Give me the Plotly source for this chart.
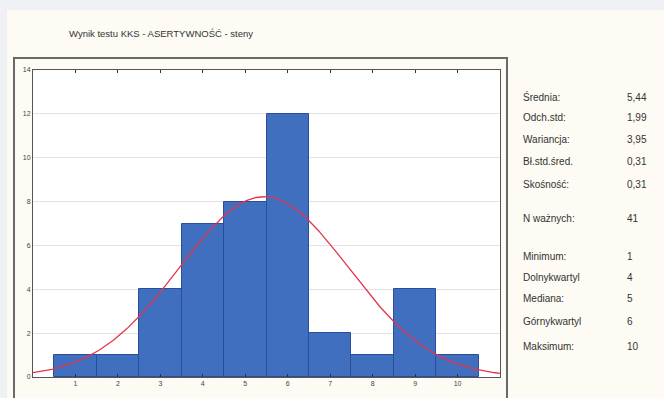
import numpy as np
import plotly.graph_objects as go

# Histogram of sten scores
scores = [1, 2, 3, 4, 5, 6, 7, 8, 9, 10]
counts = [1, 1, 4, 7, 8, 12, 2, 1, 4, 1]
y_ticks = [0, 2, 4, 6, 8, 10, 12, 14]

# Descriptive statistics panel
stat_labels = ["Średnia:", "Odch.std:", "Wariancja:", "Bł.std.śred.", "Skośność:",
               "N ważnych:", "Minimum:", "Dolnykwartyl", "Mediana:", "Górnykwartyl", "Maksimum:"]
stat_values = ["5,44", "1,99", "3,95", "0,31", "0,31", "41", "1", "4", "5", "6", "10"]
stat_rows_px = [97, 118, 139, 161, 184, 218, 256, 277, 298, 321, 346]

mean = 5.44
sd = 1.99
n = sum(counts)
bin_width = 1.0

W, H = 664, 398
L, R, T, B = 33, 500, 70, 377  # plot area in pixels

FONT = "Liberation Sans Narrow, Arial Narrow, Liberation Sans, Arial, sans-serif"


def px_x(p):
    return (p - L) / (R - L)


def px_y(p):
    return (B - p) / (B - T)


# Expected normal curve scaled to counts
xc = np.linspace(0, 11, 300)
yc = n * bin_width / (sd * np.sqrt(2 * np.pi)) * np.exp(-0.5 * ((xc - mean) / sd) ** 2)

fig = go.Figure()
fig.add_trace(go.Bar(
    x=scores, y=counts, width=1.0,
    marker=dict(color="#3F6FBE", line=dict(color="#2B4E99", width=1)),
    hoverinfo="x+y",
))
fig.add_trace(go.Scatter(
    x=xc, y=yc, mode="lines",
    line=dict(color="#E5354C", width=1.3),
    hoverinfo="skip",
))

shapes = [
    # cream panel
    dict(type="rect", xref="paper", yref="paper",
         x0=px_x(7), x1=px_x(W + 5), y0=px_y(H + 5), y1=px_y(10),
         fillcolor="#FDFBF3", line=dict(width=0), layer="below"),
    # white plotting area
    dict(type="rect", xref="paper", yref="paper",
         x0=0, x1=1, y0=0, y1=1,
         fillcolor="#FFFFFF", line=dict(width=0), layer="below"),
    # chart frame
    dict(type="rect", xref="paper", yref="paper",
         x0=px_x(14), x1=px_x(507), y0=px_y(H + 5), y1=px_y(58),
         fillcolor="rgba(0,0,0,0)", line=dict(color="#6A6A6A", width=2), layer="below"),
]

annotations = [
    dict(text="Wynik testu KKS - ASERTYWNOŚĆ - steny", xref="paper", yref="paper",
         x=px_x(67), y=px_y(34), xanchor="left", yanchor="middle", showarrow=False,
         font=dict(family=FONT, size=9.5, color="#333333")),
]
for lab, val, py in zip(stat_labels, stat_values, stat_rows_px):
    annotations.append(dict(text=lab, xref="paper", yref="paper", x=px_x(521), y=px_y(py),
                            xanchor="left", yanchor="middle", showarrow=False,
                            font=dict(family=FONT, size=10, color="#333333")))
    annotations.append(dict(text=val, xref="paper", yref="paper", x=px_x(625), y=px_y(py),
                            xanchor="left", yanchor="middle", showarrow=False,
                            font=dict(family=FONT, size=10, color="#333333")))

fig.update_layout(
    width=W, height=H,
    margin=dict(l=L, r=W - R, t=T, b=H - B, pad=0),
    paper_bgcolor="#EFF1F4",
    plot_bgcolor="#FFFFFF",
    showlegend=False,
    bargap=0,
    shapes=shapes,
    annotations=annotations,
    xaxis=dict(
        range=[0, 11], tickvals=scores, ticktext=[str(s) for s in scores],
        ticks="inside", ticklen=3, tickcolor="#333333", tickwidth=1,
        showgrid=False, zeroline=False,
        showline=True, linecolor="#555555", linewidth=1, mirror="ticks",
        tickfont=dict(family=FONT, size=7, color="#444444"),
    ),
    yaxis=dict(
        range=[0, 14], tickvals=y_ticks, ticktext=[str(v) for v in y_ticks],
        ticks="", showgrid=True, gridcolor="#E3E3E3", gridwidth=1,
        zeroline=False, showline=True, linecolor="#555555", linewidth=1, mirror=True,
        tickfont=dict(family=FONT, size=7, color="#444444"),
    ),
)

fig.write_html("out.html")
